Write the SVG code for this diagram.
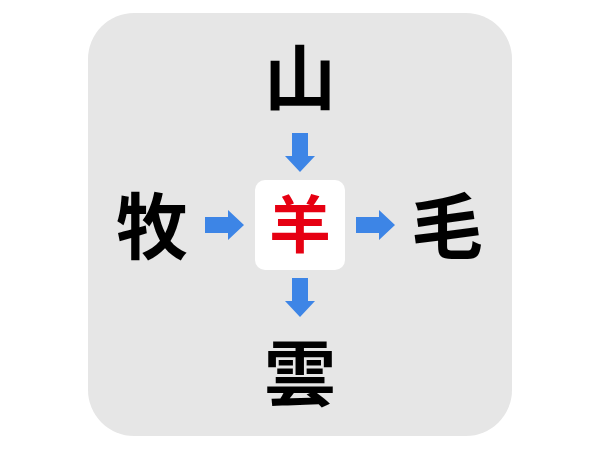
<svg xmlns="http://www.w3.org/2000/svg" width="600" height="450" viewBox="0 0 600 450">
<style>
.ch{font-family:"Noto Sans CJK JP","Noto Sans CJK SC",sans-serif;font-weight:bold;text-anchor:middle;}
.k{fill:#000;font-size:72px;}
.r{fill:#e60012;font-size:62px;}
.ar{fill:#3d85e6;}
</style>
<defs>
<path id="arr" d="M0,-8 L23,-8 L23,-15 L39,0 L23,15 L23,8 L0,8 Z"/>
</defs>
<rect width="600" height="450" fill="#fff"/>
<rect id="panel" x="88" y="13" width="424" height="423" rx="46" fill="#e6e6e6"/>
<g id="n-top"><text class="ch k" x="300" y="104">山</text></g>
<g id="n-left"><text class="ch k" x="152" y="253">牧</text></g>
<g id="n-right"><text class="ch k" x="447" y="253">毛</text></g>
<g id="n-bottom"><text class="ch k" x="300" y="400">雲</text></g>
<g id="n-center">
<rect x="255" y="180" width="90" height="90" rx="10" fill="#fff"/>
<text class="ch r" x="300" y="248">羊</text>
</g>
<g id="connectors" class="ar">
<use href="#arr" transform="translate(300,133) rotate(90)"/>
<use href="#arr" transform="translate(205,225)"/>
<use href="#arr" transform="translate(356,225)"/>
<use href="#arr" transform="translate(300,278) rotate(90)"/>
</g>
</svg>
